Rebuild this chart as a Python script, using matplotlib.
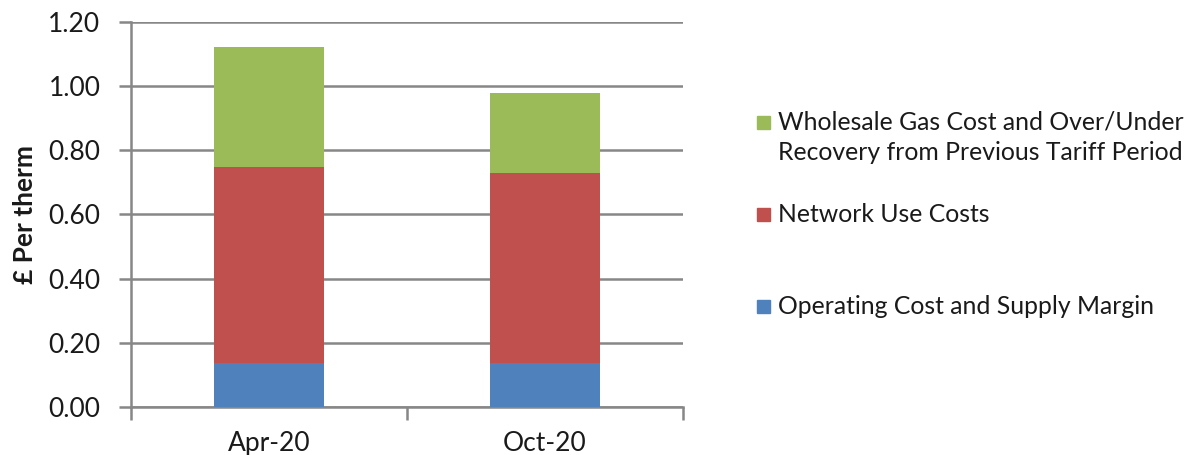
import matplotlib.pyplot as plt
from matplotlib.patches import Rectangle
import numpy as np

# Données
periods = ["Apr-20", "Oct-20"]
operating = [0.136, 0.136]
network = [0.611, 0.593]
wholesale = [0.374, 0.251]

series_labels = [
    "Wholesale Gas Cost and Over/Under\nRecovery from Previous Tariff Period",
    "Network Use Costs",
    "Operating Cost and Supply Margin",
]
colors = {"operating": "#4f81bd", "network": "#c0504d", "wholesale": "#9bbb59"}
y_ticks = [0.0, 0.2, 0.4, 0.6, 0.8, 1.0, 1.2]

plt.rcParams['font.family'] = ['Lato', 'DejaVu Sans']
grid_col = "#878787"
txt_col = "#1a1a1a"

W, H = 1189, 455
fig = plt.figure(figsize=(W / 100, H / 100), dpi=100)
ax = fig.add_axes([0.1102, 0.1055, 0.4642, 0.8462])

x = np.arange(len(periods))
bw = 0.4
ax.bar(x, operating, bw, color=colors["operating"], zorder=3)
ax.bar(x, network, bw, bottom=operating, color=colors["network"], zorder=3)
bottom2 = np.array(operating) + np.array(network)
ax.bar(x, wholesale, bw, bottom=bottom2, color=colors["wholesale"], zorder=3)

ax.set_xlim(-0.5, len(periods) - 0.5)
ax.set_ylim(0, 1.2)
ax.set_yticks(y_ticks)
ax.set_yticklabels([f"{v:.2f}" for v in y_ticks], fontsize=19, color=txt_col)
ax.yaxis.grid(True, color=grid_col, linewidth=1.8, zorder=0)

# Ticks de l'axe x entre les catégories
ax.set_xticks(np.arange(-0.5, len(periods), 1.0))
ax.set_xticklabels([])
ax.set_xticks(x, minor=True)
ax.set_xticklabels(periods, minor=True, fontsize=19, color=txt_col)
ax.tick_params(axis="x", which="major", length=9, width=1.8, color=grid_col)
ax.tick_params(axis="x", which="minor", length=0, pad=17)
ax.tick_params(axis="y", length=9, width=1.8, color=grid_col, pad=13)

for side in ["top", "right"]:
    ax.spines[side].set_visible(False)
for side in ["left", "bottom"]:
    ax.spines[side].set_color(grid_col)
    ax.spines[side].set_linewidth(1.8)

ax.set_ylabel("£ Per therm", fontsize=19, fontweight="bold", labelpad=8, color=txt_col)

# Légende dessinée à la main (style Excel)
legend_items = [
    (series_labels[0], colors["wholesale"], 137, 122),
    (series_labels[1], colors["network"], 214, 214),
    (series_labels[2], colors["operating"], 306, 306),
]
for label, col, y_txt, y_box in legend_items:
    fig.add_artist(Rectangle((757 / W, 1 - (y_box + 6.5) / H), 13 / W, 13 / H,
                             transform=fig.transFigure, color=col))
    fig.text(778 / W, 1 - y_txt / H, label, fontsize=17.8, color=txt_col,
             va="center", ha="left", linespacing=1.42)

fig.savefig("out.png", dpi=100)
